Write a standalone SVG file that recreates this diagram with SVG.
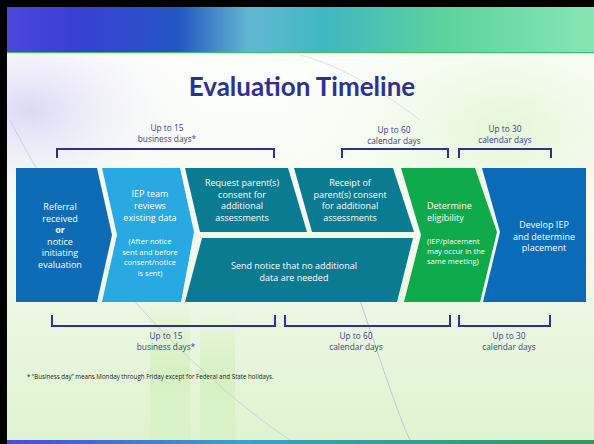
<svg xmlns="http://www.w3.org/2000/svg" width="594" height="444" viewBox="0 0 594 444">
<style>
.lbl{font-family:"Open Sans","Noto Sans",sans-serif;fill:#ffffff;text-anchor:middle;font-size:9px}
.sm{font-size:7.5px}
.lft{text-anchor:start}
.br{fill:none;stroke:#2e3192;stroke-width:2}
.bt{font-family:"Open Sans","Noto Sans",sans-serif;fill:#3a3a98;text-anchor:middle;font-size:8.3px}
</style>
<defs>
<linearGradient id="hdr" x1="0" y1="0" x2="1" y2="0">
<stop offset="0" stop-color="#4d48dc"/>
<stop offset="0.12" stop-color="#3a3fd4"/>
<stop offset="0.3" stop-color="#2456c4"/>
<stop offset="0.42" stop-color="#62b8d2"/>
<stop offset="0.55" stop-color="#3fb8c0"/>
<stop offset="0.75" stop-color="#5dd39c"/>
<stop offset="1" stop-color="#86e6b4"/>
</linearGradient>
<linearGradient id="bot" x1="0" y1="0" x2="1" y2="0">
<stop offset="0" stop-color="#4a48d8"/>
<stop offset="0.4" stop-color="#3aa0c8"/>
<stop offset="1" stop-color="#2e9a5a"/>
</linearGradient>
<linearGradient id="bodyg" x1="0" y1="0" x2="0" y2="1">
<stop offset="0" stop-color="#ffffff"/>
<stop offset="0.45" stop-color="#f6fbf2"/>
<stop offset="1" stop-color="#dff3cf"/>
</linearGradient>
<linearGradient id="strp" x1="0" y1="0" x2="0" y2="1">
<stop offset="0" stop-color="#cdeeb4" stop-opacity="0"/>
<stop offset="0.5" stop-color="#cdeeb4" stop-opacity="0.6"/>
<stop offset="1" stop-color="#cdeeb4" stop-opacity="0.3"/>
</linearGradient>
<radialGradient id="lil" cx="0.05" cy="0.15" r="0.3">
<stop offset="0" stop-color="#d8d4f6" stop-opacity="0.9"/>
<stop offset="1" stop-color="#ffffff" stop-opacity="0"/>
</radialGradient>
<radialGradient id="grn" cx="0.85" cy="0.2" r="0.45">
<stop offset="0" stop-color="#e2f6d2" stop-opacity="0.9"/>
<stop offset="1" stop-color="#ffffff" stop-opacity="0"/>
</radialGradient>
</defs>
<g id="background">
<rect x="0" y="0" width="594" height="444" fill="url(#bodyg)"/>
<rect x="0" y="52" width="594" height="388" fill="url(#grn)"/>
<rect x="0" y="52" width="594" height="388" fill="url(#lil)"/>
<rect x="150" y="300" width="40" height="140" fill="url(#strp)"/>
<rect x="200" y="310" width="35" height="130" fill="url(#strp)"/>
<path d="M10,120 C80,260 200,380 290,440" fill="none" stroke="#c8c8e8" stroke-width="0.8"/>
<path d="M360,300 C380,360 400,420 410,440" fill="none" stroke="#b8b8e0" stroke-width="0.8"/>
<path d="M300,55 C340,65 380,90 420,120" fill="none" stroke="#d8d8ea" stroke-width="0.8"/>
<rect x="0" y="0" width="594" height="52" fill="url(#hdr)"/>
<rect x="0" y="52" width="594" height="1.2" fill="#44bb66"/>
<rect x="0" y="440" width="594" height="4" fill="url(#bot)"/>
<rect x="0" y="0" width="594" height="7" fill="#000000"/>
<rect x="0" y="0" width="7" height="444" fill="#000000"/>
</g>
<text x="302" y="96" font-family="Lato,'Open Sans',sans-serif" font-weight="bold" font-size="26" fill="#2e3192" text-anchor="middle">Evaluation Timeline</text>
<g id="referral">
<polygon points="16,168 97,168 112,235 97,302 16,302" fill="#0e6bb5"/>
<text class="lbl" x="60" y="210">Referral</text>
<text class="lbl" x="60" y="221.5">received</text>
<text class="lbl" x="60" y="233" font-weight="bold">or</text>
<text class="lbl" x="60" y="244.5">notice</text>
<text class="lbl" x="60" y="256">initiating</text>
<text class="lbl" x="60" y="267.5">evaluation</text>
</g>
<g id="iep-review">
<polygon points="102,168 180,168 194,232 181,302 102,302 117,235" fill="#29a9e1"/>
<text class="lbl" x="150" y="197">IEP team</text>
<text class="lbl" x="150" y="209">reviews</text>
<text class="lbl" x="150" y="221">existing data</text>
<text class="lbl sm" x="150" y="244">(After notice</text>
<text class="lbl sm" x="150" y="254.5">sent and before</text>
<text class="lbl sm" x="150" y="265">consent/notice</text>
<text class="lbl sm" x="150" y="275.5">is sent)</text>
</g>
<g id="request-consent">
<polygon points="185,168 288,168 307,232 200,232" fill="#0b7b91"/>
<text class="lbl" x="242" y="186">Request parent(s)</text>
<text class="lbl" x="242" y="197.5">consent for</text>
<text class="lbl" x="242" y="209">additional</text>
<text class="lbl" x="242" y="220.5">assessments</text>
</g>
<g id="receipt-consent">
<polygon points="294,168 393,168 414,232 312,232" fill="#0b7b91"/>
<text class="lbl" x="350" y="186">Receipt of</text>
<text class="lbl" x="350" y="197.5">parent(s) consent</text>
<text class="lbl" x="350" y="209">for additional</text>
<text class="lbl" x="350" y="220.5">assessments</text>
</g>
<g id="send-notice">
<polygon points="202,238 413,238 397,302 185,302" fill="#0b7b91"/>
<text class="lbl" x="294" y="269">Send notice that no additional</text>
<text class="lbl" x="294" y="280.5">data are needed</text>
</g>
<g id="eligibility">
<polygon points="401,168 475,168 497,232 480,302 404,302 421,235" fill="#0eaa4b"/>
<text class="lbl lft" x="427" y="209">Determine</text>
<text class="lbl lft" x="427" y="220.5">eligibility</text>
<text class="lbl sm lft" x="427" y="244">(IEP/placement</text>
<text class="lbl sm lft" x="427" y="254">may occur in the</text>
<text class="lbl sm lft" x="427" y="264">same meeting)</text>
</g>
<g id="develop-iep">
<polygon points="482,168 586,168 586,302 483,302 500,232" fill="#0a6cb8"/>
<text class="lbl" x="544" y="228">Develop IEP</text>
<text class="lbl" x="544" y="239.5">and determine</text>
<text class="lbl" x="544" y="251">placement</text>
</g>
<g id="brackets">
<path class="br" d="M57,158 V149 H274 V158"/>
<path class="br" d="M342,158 V149 H448 V158"/>
<path class="br" d="M459,158 V149 H551 V158"/>
<path class="br" d="M52,315 V326 H275 V315"/>
<path class="br" d="M285,315 V326 H450 V315"/>
<path class="br" d="M459,315 V326 H550 V315"/>
</g>
<g id="bracket-labels">
<text class="bt" x="167" y="131">Up to 15</text>
<text class="bt" x="167" y="142">business days*</text>
<text class="bt" x="394" y="133">Up to 60</text>
<text class="bt" x="394" y="144">calendar days</text>
<text class="bt" x="505" y="132">Up to 30</text>
<text class="bt" x="505" y="143">calendar days</text>
<text class="bt" x="166" y="339">Up to 15</text>
<text class="bt" x="166" y="350">business days*</text>
<text class="bt" x="356" y="339">Up to 60</text>
<text class="bt" x="356" y="350">calendar days</text>
<text class="bt" x="509" y="339">Up to 30</text>
<text class="bt" x="509" y="350">calendar days</text>
</g>
<text x="27" y="379" font-family="'Open Sans','Noto Sans',sans-serif" font-size="6.2" fill="#222222">* “Business day” means Monday through Friday except for Federal and State holidays.</text>
</svg>
